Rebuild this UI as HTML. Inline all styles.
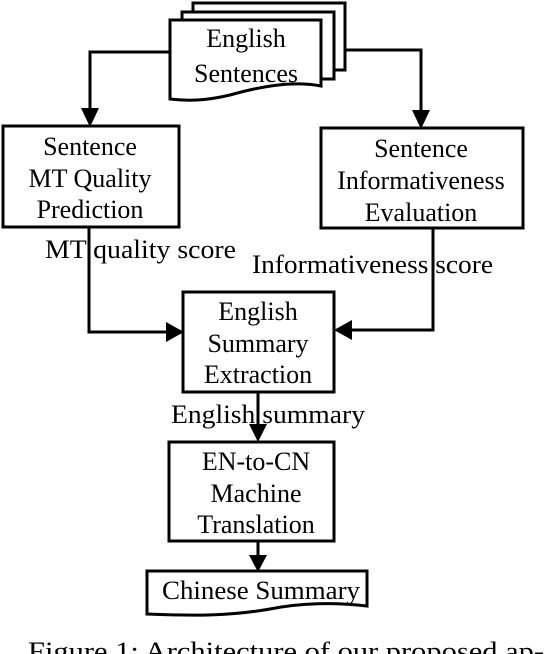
<!DOCTYPE html>
<html><head><meta charset="utf-8"><style>
html,body{margin:0;padding:0;background:#fff;}
svg{display:block;}
text{font-family:"Liberation Serif",serif;font-size:26px;fill:#000;}
</style></head><body>
<svg width="544" height="654" viewBox="0 0 544 654" xmlns="http://www.w3.org/2000/svg">
<g fill="#fff" stroke="#000" stroke-width="3">
<path d="M193,3 H345 V70 H193 Z"/>
<path d="M182,12 H334 V79 H182 Z"/>
<path d="M170,20 H321 V86 C290,80 255,88 230,95 C205,101 187,101 170,99 Z"/>
<rect x="3" y="126" width="176" height="101"/>
<rect x="321" y="128" width="202" height="100"/>
<rect x="183" y="292" width="151" height="100"/>
<rect x="169" y="442" width="165" height="99"/>
<path d="M147,571 H367 V606 C335,602 300,603 270,609 C230,616 195,616 147,614 Z"/>
</g>
<g fill="none" stroke="#000" stroke-width="3">
<path d="M170,52 H90 V112"/>
<path d="M345,50 H421 V114"/>
<path d="M89,227 V332 H168"/>
<path d="M433,228 V330 H350"/>
<path d="M258,392 V427"/>
<path d="M258,541 V557"/>
</g>
<g fill="#000">
<polygon points="81,108 99,108 90,127"/>
<polygon points="412,110 430,110 421,129"/>
<polygon points="166,322 166,342 184,332"/>
<polygon points="352,320 352,340 334,330"/>
<polygon points="249,424 267,424 258,442"/>
<polygon points="249,555 267,555 258,572"/>
</g>
<g text-anchor="middle">
<text x="246" y="47">English</text>
<text x="246" y="82">Sentences</text>
<text x="90" y="155">Sentence</text>
<text x="90" y="187">MT Quality</text>
<text x="90" y="218">Prediction</text>
<text x="421" y="157">Sentence</text>
<text x="421" y="189">Informativeness</text>
<text x="421" y="221">Evaluation</text>
<text x="258" y="320">English</text>
<text x="258" y="352">Summary</text>
<text x="258" y="383">Extraction</text>
<text x="256" y="470">EN-to-CN</text>
<text x="256" y="502">Machine</text>
<text x="256" y="533">Translation</text>
</g>
<text x="45" y="258" textLength="191" lengthAdjust="spacingAndGlyphs">MT quality score</text>
<text x="252" y="273" textLength="241" lengthAdjust="spacingAndGlyphs">Informativeness score</text>
<text x="171" y="423" textLength="194" lengthAdjust="spacingAndGlyphs">English summary</text>
<text x="162" y="599" textLength="198" lengthAdjust="spacingAndGlyphs">Chinese Summary</text>
<text x="28" y="660" textLength="516" lengthAdjust="spacingAndGlyphs">Figure 1: Architecture of our proposed ap-</text>
</svg>
</body></html>
